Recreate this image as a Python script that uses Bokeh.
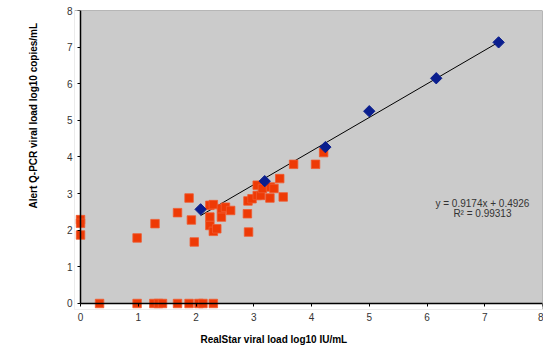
import math
from bokeh.plotting import figure
from bokeh.models import Label, Title, FixedTicker, Span, LinearAxis
from bokeh.embed import file_html
from bokeh.resources import INLINE

# Standards (blue diamonds)
std_x = [2.08, 3.19, 4.24, 5.00, 6.16, 7.24]
std_y = [2.57, 3.34, 4.27, 5.25, 6.15, 7.13]

# Clinical samples (red squares)
smp_x = [0.33, 0.98, 1.27, 1.35, 1.42, 1.68, 1.88, 2.05, 2.12, 2.30,
         0.0, 0.0, 0.0,
         0.98, 1.29, 1.68, 1.88, 1.92, 1.97, 2.24, 2.30, 2.24, 2.24, 2.30, 2.36,
         2.44, 2.44, 2.51, 2.60, 2.89, 2.91, 2.90, 2.97, 3.06, 3.12, 3.06, 3.15,
         3.29, 3.35, 3.28, 3.45, 3.51, 3.69, 4.07, 4.21]
smp_y = [0, 0, 0, 0, 0, 0, 0, 0, 0, 0,
         2.29, 2.19, 1.87,
         1.79, 2.18, 2.48, 2.88, 2.28, 1.68, 2.68, 2.70, 2.36, 2.13, 1.97, 2.04,
         2.36, 2.59, 2.63, 2.54, 2.45, 1.95, 2.80, 2.86, 2.95, 2.95, 3.23, 3.14,
         3.18, 3.14, 2.88, 3.41, 2.91, 3.80, 3.80, 4.12]

slope = 0.9174
intercept = 0.4926
r2 = 0.99313
ticks = [0, 1, 2, 3, 4, 5, 6, 7, 8]

FONT = "Liberation Sans"

# small padding so markers sitting on the axes are not clipped
XPAD = 0.104
YPAD = 0.164

p = figure(width=543, height=354, x_range=(-XPAD, 8), y_range=(-YPAD, 8),
           output_backend="svg", toolbar_location=None,
           min_border_left=74, min_border_right=1, min_border_top=10,
           min_border_bottom=45)
p.background_fill_color = "#CBCBCB"
p.border_fill_color = "white"
p.outline_line_color = None
p.xgrid.visible = False
p.ygrid.visible = False

# white strips outside the axes (inside the padded frame), drawn under the marks
p.quad(left=[-XPAD, -XPAD], right=[0, 8], bottom=[-YPAD, -YPAD], top=[8, 0],
       fill_color="white", line_color=None)
p.add_layout(Span(location=8, dimension="width", line_color="#888888",
                  line_width=1, level="glyph"))
p.add_layout(Span(location=8, dimension="height", line_color="#888888",
                  line_width=1, level="glyph"))

# edge axes: labels only
for ax in (p.xaxis[0], p.yaxis[0]):
    ax.ticker = FixedTicker(ticks=ticks)
    ax.axis_line_color = None
    ax.major_tick_line_color = None
    ax.minor_tick_line_color = None
    ax.major_tick_in = 0
    ax.major_tick_out = 0
    ax.major_label_text_font = FONT
    ax.major_label_text_font_size = "10px"
    ax.major_label_text_color = "#333333"
p.xaxis[0].major_label_standoff = 3
p.yaxis[0].major_label_standoff = 2

# axis lines and ticks sitting at zero
for side in ("below", "left"):
    a = LinearAxis(fixed_location=0, bounds=(0, 8),
                   ticker=FixedTicker(ticks=ticks),
                   axis_line_color="black", axis_line_width=1.5,
                   major_tick_line_color="black", major_tick_in=0,
                   major_tick_out=3, minor_tick_line_color=None,
                   major_label_text_color=None,
                   major_label_text_font_size="1px",
                   major_label_standoff=0)
    p.add_layout(a, side)

# regression line across the standards range
lx = [min(std_x), max(std_x)]
ly = [slope * v + intercept for v in lx]
p.line(lx, ly, line_color="black", line_width=1)

p.scatter(smp_x, smp_y, marker="square", size=8.5,
          fill_color="#EE3A06", line_color="#F05A30", line_width=0.8)
p.scatter(std_x, std_y, marker="square", size=8, angle=math.pi / 4,
          fill_color="#0A1E8E", line_color="#0A1E8E")

p.add_layout(Label(x=6.96, y=2.74, text=f"y = {slope}x + {intercept}",
                   text_align="center", text_baseline="middle",
                   text_font=FONT, text_font_size="10px",
                   text_color="#333333"))
p.add_layout(Label(x=6.96, y=2.47, text=f"R\u00b2 = {r2}",
                   text_align="center", text_baseline="middle",
                   text_font=FONT, text_font_size="10px",
                   text_color="#333333"))

p.add_layout(Title(text="RealStar viral load log10 IU/mL", align="left",
                   offset=126, text_font=FONT, text_font_size="10px",
                   text_font_style="bold", text_color="black",
                   standoff=17), "below")
p.add_layout(Title(text="Alert Q-PCR viral load log10 copies/mL", align="left",
                   offset=101, text_font=FONT, text_font_size="10px",
                   text_font_style="bold", text_color="black",
                   standoff=50), "left")

open("out.html", "w").write(file_html(p, INLINE))
